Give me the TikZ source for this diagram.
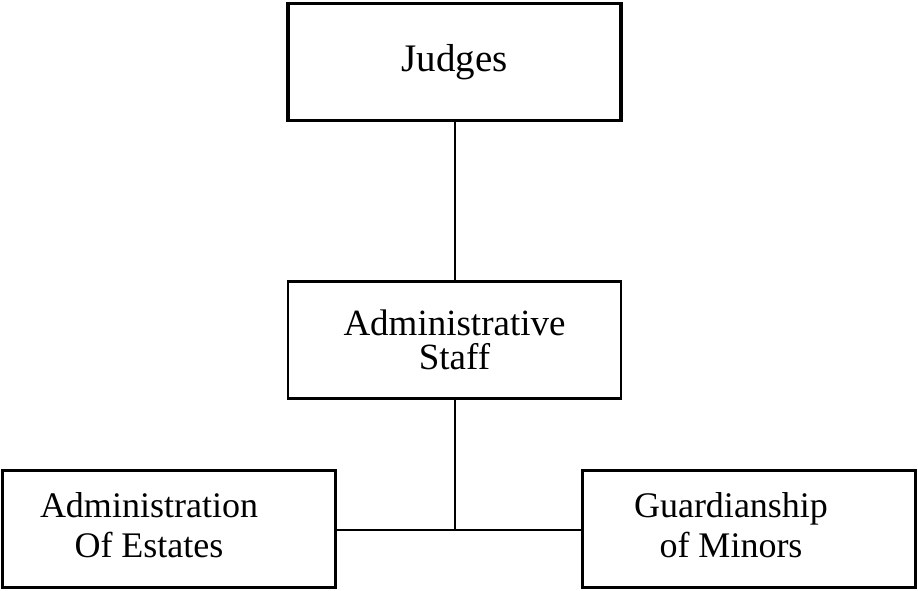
\documentclass[tikz,border=0pt]{standalone}
\usepackage{fontspec}
\setmainfont{Liberation Serif}
\begin{document}
\begin{tikzpicture}[x=1pt, y=-1pt,
    office/.style={draw, line width=3pt, inner sep=0pt, align=center,
      minimum width=333pt, minimum height=117pt, font=\fontsize{39}{36}\selectfont},
    link/.style={line width=2pt}]

          \useasboundingbox (0,0) rectangle (918,590);

          \node[office, line width=3.5pt] (judges) at (454.5,62) {Judges};
          \node[office, line width=2.5pt, font=\fontsize{37}{34}\selectfont] (staff) at (454.5,340)
            {Administrative\\Staff};

          \node[office, font=\fontsize{36}{40}\selectfont] (estates) at (169,529)
            {\begin{tabular}{@{}c@{\hspace{40pt}}}Administration\\Of Estates\end{tabular}};
          \node[office, font=\fontsize{36}{40}\selectfont] (minors) at (749,529)
            {\begin{tabular}{@{}c@{\hspace{36pt}}}Guardianship\\of Minors\end{tabular}};

          \coordinate (joint) at (staff.south |- 0,530);

          \draw[link] (judges.south) -- (staff.north);
          \draw[link] (staff.south) -- (joint);
          \draw[link] (estates.east |- joint) -- (minors.west |- joint);
        \end{tikzpicture}
\end{document}
